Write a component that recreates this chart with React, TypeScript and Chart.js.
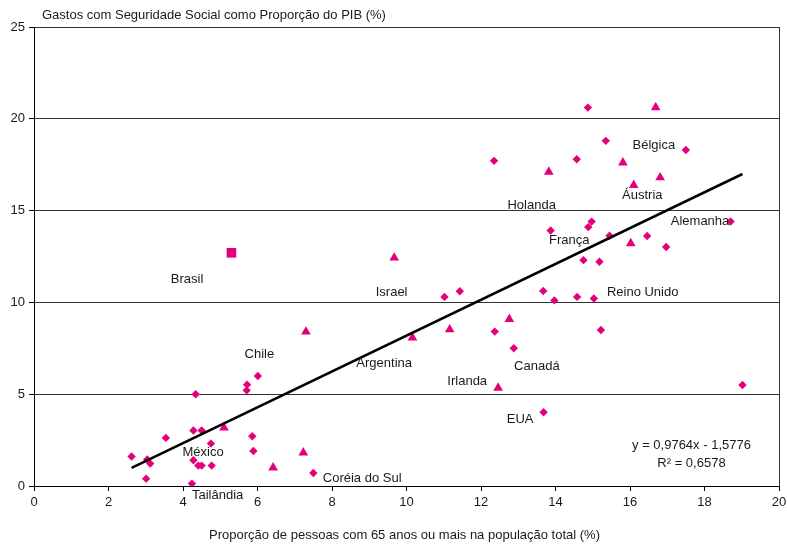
import React, { useEffect, useRef } from "react";
import { Chart, registerables } from "chart.js";

Chart.register(...registerables);

// ---- Data ----
const diamondX = [
  2.62, 3.04, 3.12, 3.01, 3.54, 4.34, 4.28, 4.5, 4.75, 4.28, 4.41, 4.5, 4.77, 4.24, 5.72,
  5.71, 6.01, 5.86, 5.89, 7.5, 11.02, 11.43, 12.37, 12.88, 13.68, 13.67, 13.97, 14.58, 15.03,
  13.87, 14.97, 14.88, 15.45, 16.46, 16.97, 14.75, 15.18, 14.87, 15.35, 17.5, 12.35, 14.57,
  18.7, 15.22, 19.02,
];
const diamondY = [
  1.61, 1.44, 1.22, 0.4, 2.62, 5.0, 3.02, 3.02, 2.31, 1.4, 1.11, 1.11, 1.11, 0.13, 5.52,
  5.21, 5.99, 2.71, 1.91, 0.71, 10.3, 10.61, 8.41, 7.5, 4.02, 10.62, 10.11, 10.3, 10.21,
  13.92, 14.4, 14.1, 13.63, 13.62, 13.02, 12.3, 12.21, 20.61, 18.8, 18.3, 17.71, 17.8,
  14.41, 8.5, 5.5,
];
const triangleX = [
  5.1, 7.3, 7.23, 6.42, 9.67, 10.16, 11.16, 12.76, 12.46, 13.82, 15.81, 16.1, 16.81, 16.69, 16.02,
];
const triangleY = [
  3.18, 8.4, 1.82, 1.0, 12.43, 8.08, 8.52, 9.09, 5.34, 17.11, 17.61, 16.39, 16.8, 20.62, 13.21,
];
const squareX = [5.3];
const squareY = [12.7];

const labelNames = [
  "Brasil", "Chile", "México", "Tailândia", "Coréia do Sul", "Israel", "Argentina",
  "Irlanda", "Canadá", "EUA", "Holanda", "França", "Bélgica", "Áustria", "Alemanha",
  "Reino Unido",
];
const labelX = [
  4.11, 6.05, 4.54, 4.93, 8.81, 9.6, 9.4, 11.63, 13.5, 13.05, 13.36, 14.37, 16.64, 16.33, 17.88,
  16.34,
];
const labelY = [
  11.25, 7.16, 1.85, -0.51, 0.42, 10.54, 6.7, 5.72, 6.52, 3.62, 15.26, 13.35, 18.53, 15.84,
  14.39, 10.57,
];

const trendSlope = 0.9764;
const trendIntercept = -1.5776;
const equationLines = ["y = 0,9764x - 1,5776", "R² = 0,6578"];
const equationX = 17.65;
const equationY = [2.22, 1.22];

const chartTitle = "Gastos com Seguridade Social como Proporção do PIB (%)";
const xTitle = "Proporção de pessoas com 65 anos ou mais na população total (%)";

const xMin = 0, xMax = 20, xStep = 2;
const yMin = 0, yMax = 25, yStep = 5;

const MAGENTA = "#E4007C";
const FONT = "'Liberation Sans', Arial, Helvetica, sans-serif";

const toPoints = (xs: number[], ys: number[]) => xs.map((x, i) => ({ x, y: ys[i] }));

const annotationPlugin = {
  id: "annotations",
  afterDraw(chart: any) {
    const { ctx, chartArea, scales } = chart;
    const xs = scales.x;
    const ys = scales.y;
    ctx.save();
    // right border
    ctx.strokeStyle = "#333";
    ctx.lineWidth = 1;
    ctx.beginPath();
    const rx = Math.round(chartArea.right) + 0.5;
    ctx.moveTo(rx, chartArea.top);
    ctx.lineTo(rx, chartArea.bottom);
    ctx.stroke();

    ctx.fillStyle = "#1a1a1a";
    ctx.font = `13px ${FONT}`;
    // title
    ctx.textAlign = "left";
    ctx.textBaseline = "alphabetic";
    ctx.fillText(chartTitle, chartArea.left + 8, chartArea.top - 8);
    // x title
    ctx.textAlign = "center";
    ctx.textBaseline = "middle";
    ctx.fillText(xTitle, (chartArea.left + chartArea.right) / 2 - 2, 535);
    // country labels
    labelNames.forEach((name, i) => {
      ctx.fillText(name, xs.getPixelForValue(labelX[i]), ys.getPixelForValue(labelY[i]));
    });
    // equation
    equationLines.forEach((line, i) => {
      ctx.fillText(line, xs.getPixelForValue(equationX), ys.getPixelForValue(equationY[i]));
    });
    ctx.restore();
  },
};

export default function App() {
  const canvasRef = useRef<HTMLCanvasElement | null>(null);

  useEffect(() => {
    if (!canvasRef.current) return;
    const allX = [...diamondX, ...triangleX, ...squareX];
    const tx0 = Math.min(...allX);
    const tx1 = Math.max(...allX);
    const trend = [
      { x: tx0, y: trendSlope * tx0 + trendIntercept },
      { x: tx1, y: trendSlope * tx1 + trendIntercept },
    ];

    const chart = new Chart(canvasRef.current, {
      type: "scatter",
      data: {
        datasets: [
          {
            label: "Tendência",
            data: trend,
            showLine: true,
            borderColor: "#000",
            borderWidth: 2.5,
            pointRadius: 0,
            fill: false,
          } as any,
          {
            label: "Losangos",
            data: toPoints(diamondX, diamondY),
            pointStyle: "rectRot",
            pointRadius: 4.2,
            pointBackgroundColor: MAGENTA,
            pointBorderWidth: 0,
            borderColor: MAGENTA,
          },
          {
            label: "Triângulos",
            data: toPoints(triangleX, triangleY),
            pointStyle: "triangle",
            pointRadius: 5.6,
            pointBackgroundColor: MAGENTA,
            pointBorderWidth: 0,
            borderColor: MAGENTA,
          },
          {
            label: "Brasil",
            data: toPoints(squareX, squareY),
            pointStyle: "rect",
            pointRadius: 6.8,
            pointBackgroundColor: MAGENTA,
            pointBorderWidth: 0,
            borderColor: MAGENTA,
          },
        ],
      },
      options: {
        animation: false,
        responsive: false,
        devicePixelRatio: 1,
        layout: { padding: { top: 27, right: 8, left: 0, bottom: 0 } },
        plugins: {
          legend: { display: false },
          tooltip: { enabled: false },
          title: { display: false },
        },
        scales: {
          x: {
            type: "linear",
            min: xMin,
            max: xMax,
            afterFit: (s: any) => {
              s.height = 58;
              s.paddingLeft = 0;
              s.paddingRight = 0;
            },
            ticks: {
              stepSize: xStep,
              color: "#1a1a1a",
              font: { family: FONT, size: 13 },
              padding: 4,
              maxRotation: 0,
            },
            grid: {
              drawOnChartArea: false,
              drawTicks: true,
              tickLength: 5,
              color: "#000",
              tickColor: "#000",
            },
            border: { display: true, color: "#000", width: 1 },
          },
          y: {
            type: "linear",
            min: yMin,
            max: yMax,
            afterFit: (s: any) => {
              s.width = 34;
              s.paddingTop = 0;
              s.paddingBottom = 0;
            },
            ticks: {
              stepSize: yStep,
              color: "#1a1a1a",
              font: { family: FONT, size: 13 },
              padding: 4,
            },
            grid: {
              drawOnChartArea: true,
              drawTicks: true,
              tickLength: 5,
              color: "#333",
              tickColor: "#000",
              lineWidth: 1,
            },
            border: { display: true, color: "#000", width: 1 },
          },
        },
      } as any,
      plugins: [annotationPlugin],
    });
    return () => chart.destroy();
  }, []);

  return (
    <div style={{ position: "absolute", left: 0, top: 0, width: 787, height: 544, background: "#fff" }}>
      <canvas ref={canvasRef} width={787} height={544} style={{ display: "block" }} />
    </div>
  );
}
